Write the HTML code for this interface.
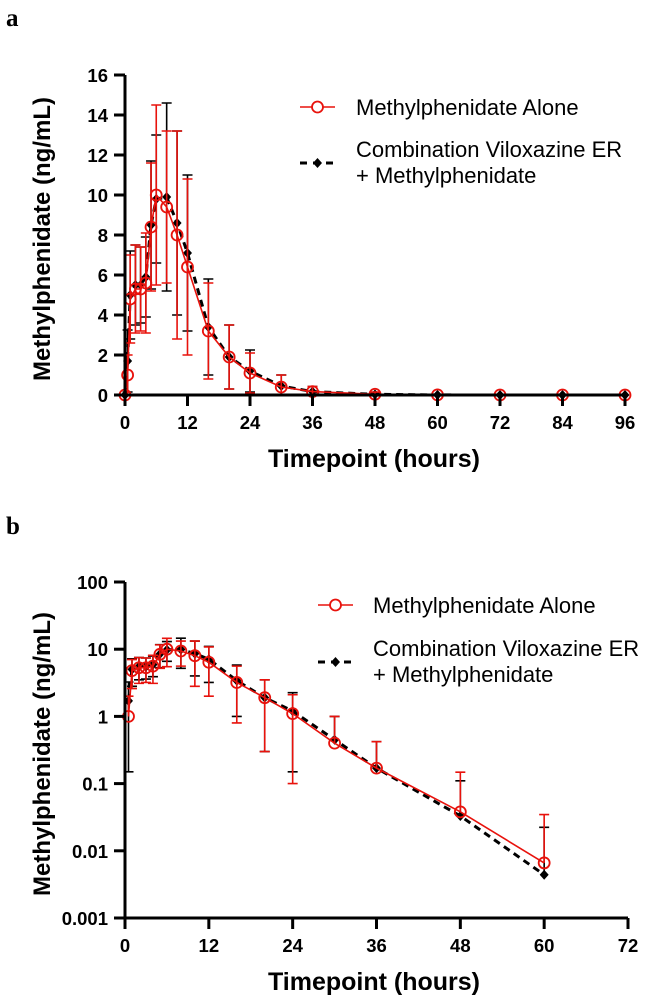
<!DOCTYPE html>
<html><head><meta charset="utf-8"><style>
html,body{margin:0;padding:0;background:#fff;}
svg{display:block;font-family:"Liberation Sans",Arial,sans-serif;}
</style></head><body>
<svg id="fig" width="646" height="1002" viewBox="0 0 646 1002">
<text x="6" y="26" font-family="Liberation Serif,serif" font-weight="bold" font-size="25">a</text>
<text x="6" y="534" font-family="Liberation Serif,serif" font-weight="bold" font-size="25">b</text>
<g id="chartA"></g>
<g id="chartB"></g>
</svg>
<script>
const times = [0,0.5,1,2,3,4,5,6,8,10,12,16,20,24,30,36,48,60,72,84,96];
const aloneMean = [0,1.0,4.8,5.3,5.3,5.6,8.4,10.0,9.4,8.0,6.4,3.2,1.9,1.1,0.40,0.17,0.038,0.0066,0,0,0];
const aloneSD = [0,1.0,2.2,2.2,2.1,2.5,3.2,4.5,3.8,5.2,4.4,2.4,1.6,1.0,0.6,0.25,0.11,0.028,0,0,0];
const comboMean = [0,1.7,5.0,5.5,5.5,5.9,8.5,9.8,9.9,8.6,7.1,3.4,1.9,1.2,0.45,0.17,0.033,0.0044,0,0,0];
const comboSD = [0,1.55,2.2,2.0,1.9,2.0,3.2,3.2,4.7,4.6,3.9,2.4,1.6,1.05,0.55,0.25,0.077,0.018,0,0,0];
const xTicksA = [0,12,24,36,48,60,72,84,96];
const yTicksA = [0,2,4,6,8,10,12,14,16];
const xTicksB = [0,12,24,36,48,60,72];
const yTicksB = [0.001,0.01,0.1,1,10,100];
const yTickLabelsB = ["0.001","0.01","0.1","1","10","100"];

const NS="http://www.w3.org/2000/svg";
function mk(parent,tag,attrs,text){const e=document.createElementNS(NS,tag);for(const k in attrs)e.setAttribute(k,attrs[k]);if(text!==undefined)e.textContent=text;parent.appendChild(e);return e;}

function drawChart(g,cfg){
  const {x,y,xTicks,yTicks,yLabels,xMax,logScale,top,bottom,legend}=cfg;
  const series=[
    {mean:comboMean,sd:comboSD,color:"#000",dash:"7,5",marker:"diamond",name:"combination"},
    {mean:aloneMean,sd:aloneSD,color:"#e8120c",dash:null,marker:"circle",name:"alone"}
  ];
  for(const s of series){
    const sg=mk(g,"g",{});
    
    
    for(let i=0;i<times.length;i++){
      if(times[i]>xMax) continue;
      const m=s.mean[i], sd=s.sd[i]; if(sd<=0) continue;
      if(logScale && m<=0) continue;
      const px=x(times[i]);
      const hi=m+sd; let lo=m-sd;
      const yh=y(hi); let yl;
      if(logScale){ yl = lo>0 ? y(lo) : null; } else { yl=y(Math.max(lo,0)); }
      const eb=mk(sg,"path",{d:`M${px},${y(m)}V${yh}M${px-5},${yh}H${px+5}`+(yl!==null?`M${px},${y(m)}V${yl}M${px-5},${yl}H${px+5}`:""),stroke:s.color,"stroke-width":1.6,fill:"none"});
      
      
    }
    let d="";
    for(let i=0;i<times.length;i++){
      if(times[i]>xMax) continue;
      const m=s.mean[i]; if(logScale && m<=0) continue;
      d+=(d?"L":"M")+x(times[i])+","+y(m);
    }
    const ln=mk(sg,"path",{d,stroke:s.color,"stroke-width":s.dash?3:1.6,fill:"none"});
    if(s.dash) ln.setAttribute("stroke-dasharray",s.dash);
    
    
    for(let i=0;i<times.length;i++){
      if(times[i]>xMax) continue;
      const m=s.mean[i]; if(logScale && m<=0) continue;
      const px=x(times[i]),py=y(m);
      let mkr;
      if(s.marker==="circle") mkr=mk(sg,"circle",{cx:px,cy:py,r:5.5,fill:"none",stroke:s.color,"stroke-width":1.8});
      else mkr=mk(sg,"path",{d:`M${px},${py-5}L${px+4.5},${py}L${px},${py+5}L${px-4.5},${py}Z`,fill:"#000"});
      
      
    }
  }
  const ax=mk(g,"path",{d:`M125,${top}V${bottom}H${x(xMax)}`,stroke:"#000","stroke-width":3,fill:"none"});
  
  
  for(const t of xTicks){
    const px=x(t);
    mk(g,"line",{x1:px,x2:px,y1:bottom,y2:bottom+11,stroke:"#000","stroke-width":3});
    const tl=mk(g,"text",{x:px,y:bottom+34,"text-anchor":"middle","font-size":18.5,"font-weight":"bold"},String(t));
    
    
  }
  yTicks.forEach((t,i)=>{
    const py=y(t);
    mk(g,"line",{x1:114,x2:125,y1:py,y2:py,stroke:"#000","stroke-width":3});
    const tl=mk(g,"text",{x:108,y:py+7,"text-anchor":"end","font-size":18.5,"font-weight":"bold"},yLabels[i]);
    
    
  });
  const xt=mk(g,"text",{x:374,y:bottom+72,"text-anchor":"middle","font-size":25,"font-weight":"bold"},"Timepoint (hours)");
  
  
  const cy=(top+bottom)/2+4;
  const yt=mk(g,"text",{x:0,y:0,transform:`translate(50,${cy}) rotate(-90)`,"text-anchor":"middle","font-size":24,"font-weight":"bold"},"Methylphenidate (ng/mL)");
  
  
  const L=legend;
  const lg=mk(g,"g",{});
  
  
  mk(lg,"line",{x1:L.x,x2:L.x+35,y1:L.y1,y2:L.y1,stroke:"#e8120c","stroke-width":1.6});
  mk(lg,"circle",{cx:L.x+17.5,cy:L.y1,r:5.5,fill:"#fff",stroke:"#e8120c","stroke-width":1.8});
  const t1=mk(lg,"text",{x:L.tx,y:L.y1+8,"font-size":22},"Methylphenidate Alone");
  
  
  mk(lg,"line",{x1:L.x,x2:L.x+35,y1:L.y2,y2:L.y2,stroke:"#000","stroke-width":3,"stroke-dasharray":"7,6"});
  const xm=L.x+17.5;
  mk(lg,"path",{d:`M${xm},${L.y2-5}L${xm+4.5},${L.y2}L${xm},${L.y2+5}L${xm-4.5},${L.y2}Z`,fill:"#000"});
  const t2=mk(lg,"text",{x:L.tx,y:L.y2-6,"font-size":22},"Combination Viloxazine ER");
  
  
  mk(lg,"text",{x:L.tx,y:L.y2+20,"font-size":22},"+ Methylphenidate");
}

const xA=t=>125+t*(500/96);
const yA=v=>395-v*20;
drawChart(document.getElementById("chartA"),{x:xA,y:yA,xTicks:xTicksA,yTicks:yTicksA,yLabels:yTicksA.map(String),xMax:96,logScale:false,top:75,bottom:395,
  legend:{x:300,tx:356,y1:107,y2:163}});
const xB=t=>125+t*(503/72);
const yB=v=>918-(Math.log10(v)+3)*67.2;
drawChart(document.getElementById("chartB"),{x:xB,y:yB,xTicks:xTicksB,yTicks:yTicksB,yLabels:yTickLabelsB,xMax:72,logScale:true,top:582,bottom:918,
  legend:{x:318,tx:373,y1:605,y2:662}});
</script>
</body></html>
